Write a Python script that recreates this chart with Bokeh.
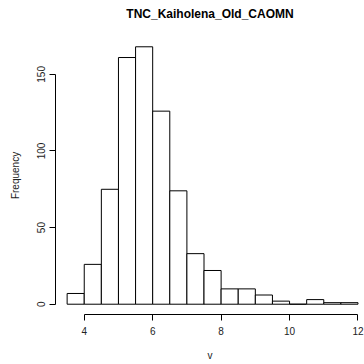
from bokeh.plotting import figure
from bokeh.models import FixedTicker, Range1d, LinearAxis
from bokeh.embed import file_html
from bokeh.resources import INLINE

title = "TNC_Kaiholena_Old_CAOMN"
x_label = "v"
y_label = "Frequency"
bin_left = [3.5, 4.0, 4.5, 5.0, 5.5, 6.0, 6.5, 7.0, 7.5, 8.0, 8.5, 9.0, 9.5, 10.0, 10.5, 11.0, 11.5]
bin_right = [4.0, 4.5, 5.0, 5.5, 6.0, 6.5, 7.0, 7.5, 8.0, 8.5, 9.0, 9.5, 10.0, 10.5, 11.0, 11.5, 12.0]
counts = [7, 26, 75, 161, 168, 126, 74, 33, 22, 10, 10, 6, 2, 0, 3, 1, 1]
x_ticks = [4, 6, 8, 10, 12]
y_ticks = [0, 50, 100, 150]

FONT = "Liberation Sans"

p = figure(width=364, height=364, output_backend="svg", toolbar_location=None,
           x_range=Range1d(3.16, 12.19), y_range=Range1d(-6.72, 174.72),
           min_border_left=55, min_border_right=0, min_border_top=36, min_border_bottom=50)

p.quad(left=bin_left, right=bin_right, bottom=0, top=counts,
       fill_color="white", line_color="black", line_width=1)

p.grid.visible = False
p.outline_line_color = None
p.background_fill_color = "white"
p.border_fill_color = "white"

xa = p.below[0]
ya = p.left[0]

for ax, ticks, bounds in ((xa, x_ticks, (4, 12)), (ya, y_ticks, (0, 150))):
    ax.ticker = FixedTicker(ticks=ticks)
    ax.bounds = bounds
    ax.minor_tick_line_color = None
    ax.major_tick_in = 0
    ax.major_tick_out = 6
    ax.axis_line_color = "black"
    ax.major_tick_line_color = "black"
    ax.major_label_text_font = FONT
    ax.major_label_text_font_size = "10px"
    ax.major_label_text_color = "#222222"
    ax.axis_label_text_font = FONT
    ax.axis_label_text_font_size = "10px"
    ax.axis_label_text_font_style = "normal"
    ax.axis_label_text_color = "#222222"

xa.axis_label = x_label
xa.major_label_standoff = 6
xa.axis_label_standoff = 12
ya.axis_label = y_label
ya.major_label_orientation = "vertical"
ya.major_label_standoff = 4
ya.axis_label_standoff = 14

# title drawn as the label of a bare axis above the frame
title_axis = LinearAxis(ticker=FixedTicker(ticks=[]), axis_label=title,
                        axis_line_color=None, major_tick_line_color=None,
                        minor_tick_line_color=None, major_tick_in=0, major_tick_out=0,
                        major_label_text_font_size="0px",
                        axis_label_standoff=16, axis_label_text_font=FONT,
                        axis_label_text_font_size="12px", axis_label_text_font_style="bold",
                        axis_label_text_color="black")
p.add_layout(title_axis, "above")

open("out.html", "w").write(file_html(p, INLINE))
